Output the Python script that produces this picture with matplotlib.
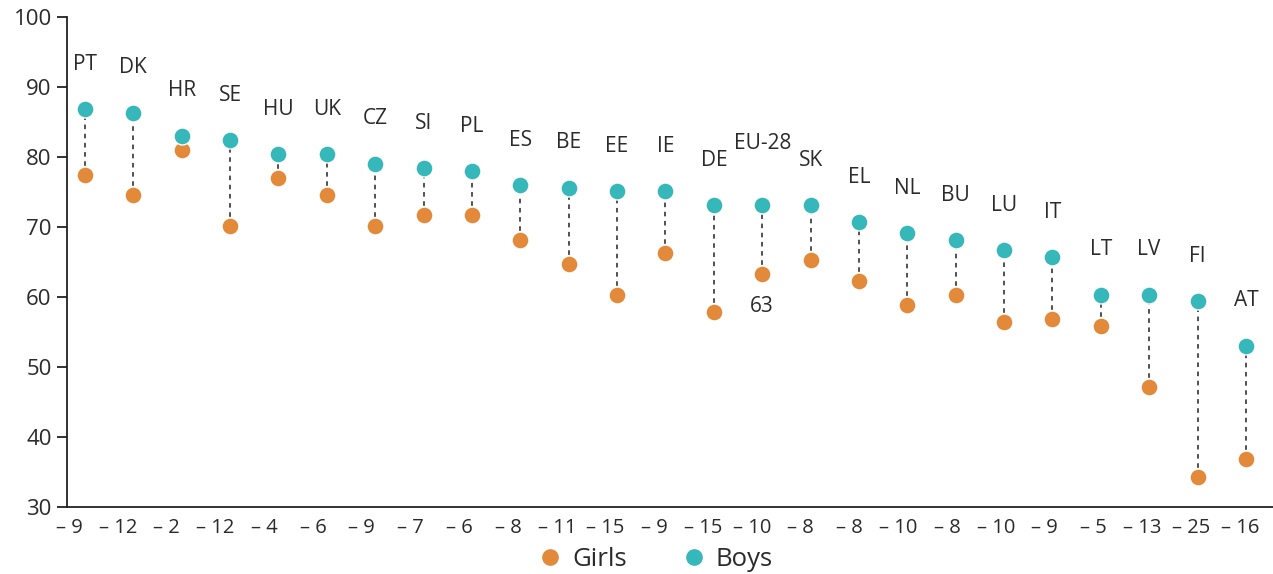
import matplotlib
matplotlib.use("Agg")
import matplotlib.pyplot as plt
from matplotlib.lines import Line2D
import numpy as np

plt.rcParams['font.family'] = ['Open Sans', 'DejaVu Sans']

countries = ["PT", "DK", "HR", "SE", "HU", "UK", "CZ", "SI", "PL", "ES", "BE", "EE", "IE",
             "DE", "EU-28", "SK", "EL", "NL", "BU", "LU", "IT", "LT", "LV", "FI", "AT"]
boys = [86.8, 86.3, 83.0, 82.4, 80.4, 80.4, 79.0, 78.4, 78.0, 76.0, 75.6, 75.1, 75.1,
        73.1, 73.1, 73.1, 70.7, 69.1, 68.1, 66.7, 65.7, 60.3, 60.3, 59.4, 53.0]
girls = [77.4, 74.6, 81.0, 70.1, 77.0, 74.6, 70.1, 71.7, 71.7, 68.1, 64.7, 60.3, 66.3,
         57.9, 63.3, 65.3, 62.3, 58.9, 60.3, 56.4, 56.9, 55.9, 47.1, 34.3, 36.9]
gaps = ["– 9", "– 12", "– 2", "– 12", "– 4", "– 6", "– 9", "– 7", "– 6", "– 8", "– 11", "– 15", "– 9",
        "– 15", "– 10", "– 8", "– 8", "– 10", "– 8", "– 10", "– 9", "– 5", "– 13", "– 25", "– 16"]
yticks = [30, 40, 50, 60, 70, 80, 90, 100]

c_girls = "#E3893A"
c_boys = "#36B7B9"
txt = "#2b2b2b"

fig = plt.figure(figsize=(12.73, 5.74), dpi=100)
ax = fig.add_axes([67/1273, (574-507)/574, 1 - 67/1273, (507-17)/574])

x = np.arange(len(countries))
for i in x:
    ax.plot([i, i], [girls[i], boys[i]], ls=(0, (3, 3)), color="#222222", lw=1.1, zorder=1)
ax.scatter(x, girls, s=150, color=c_girls, edgecolor="white", linewidth=1, zorder=3)
ax.scatter(x, boys, s=150, color=c_boys, edgecolor="white", linewidth=1, zorder=3)

for i, c in enumerate(countries):
    off = 45 if c != "EU-28" else 62
    ax.annotate(c, (i, boys[i]), xytext=(0, off*0.72), textcoords="offset points",
                ha="center", va="center", fontsize=15, color=txt)
i_eu = countries.index("EU-28")
ax.annotate(f"{round(girls[i_eu])}", (i_eu, girls[i_eu]), xytext=(0, -33*0.72),
            textcoords="offset points", ha="center", va="center", fontsize=15,
            color=txt)

ax.set_xlim(-0.372, 24.56)
ax.set_ylim(30, 100)
ax.set_yticks(yticks)
ax.set_yticklabels([str(v) for v in yticks], fontsize=16, color=txt)
# gap labels are spaced slightly differently from the markers in the original
label_pos = np.linspace(-0.33, 23.876, len(gaps))
ax.set_xticks(label_pos)
ax.set_xticklabels(gaps, fontsize=14.5, color=txt)
ax.tick_params(axis="x", length=0, pad=8)
ax.tick_params(axis="y", length=7, width=1.3, color="#222222", pad=4)
for s in ["top", "right"]:
    ax.spines[s].set_visible(False)
for s in ["left", "bottom"]:
    ax.spines[s].set_color("#222222")
    ax.spines[s].set_linewidth(1.3)

handles = [Line2D([], [], marker="o", ls="", color=c_girls, markersize=11, label="Girls"),
           Line2D([], [], marker="o", ls="", color=c_boys, markersize=11, label="Boys")]
leg = fig.legend(handles=handles, loc="center", bbox_to_anchor=(655/1273, 1 - 559/574),
                 ncol=2, frameon=False, fontsize=18.5, handletextpad=0.35, columnspacing=2.1,
                 handlelength=1.0)
for t in leg.get_texts():
    t.set_color(txt)

fig.savefig("out.png", dpi=100)
